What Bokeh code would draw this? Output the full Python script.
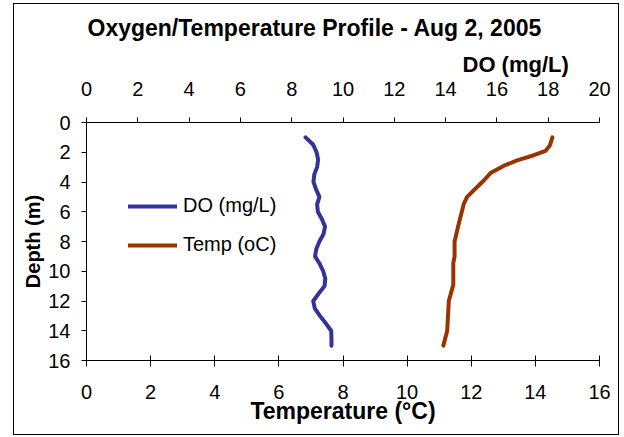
from bokeh.plotting import figure
from bokeh.models import Range1d, LinearAxis, Legend, LegendItem, Title, FixedTicker
from bokeh.embed import file_html
from bokeh.resources import INLINE

title_text = "Oxygen/Temperature Profile - Aug 2, 2005"
do_label = "DO (mg/L)"
temp_label = "Temp (oC)"

depth_do = [1.0, 1.5, 2.0, 2.5, 3.0, 3.5, 4.0, 4.5, 5.0, 5.5, 6.0, 6.5, 7.0, 7.5,
            8.0, 8.5, 9.0, 9.5, 10.0, 10.5, 11.0, 11.5, 12.0, 12.5, 13.0, 13.5,
            14.0, 14.5, 15.0]
do_mgl = [8.54, 8.84, 8.97, 9.03, 8.99, 8.88, 8.85, 8.95, 9.08, 8.99, 9.02, 9.18,
          9.30, 9.24, 9.08, 8.96, 8.91, 9.09, 9.23, 9.31, 9.28, 9.05, 8.84, 8.90,
          9.10, 9.33, 9.54, 9.55, 9.55]

depth_temp = [1.0, 1.55, 1.9, 2.2, 2.55, 2.9, 3.4, 3.9, 5.0, 5.45, 6.8, 8.0, 9.0,
              9.45, 10.9, 12.0, 12.8, 14.0, 15.0]
temp_c = [14.53, 14.45, 14.32, 13.95, 13.43, 13.02, 12.60, 12.39, 11.87, 11.77,
          11.61, 11.48, 11.48, 11.44, 11.44, 11.30, 11.28, 11.25, 11.13]

temp_ticks = [0, 2, 4, 6, 8, 10, 12, 14, 16]
do_ticks = [0, 2, 4, 6, 8, 10, 12, 14, 16, 18, 20]
depth_ticks = [0, 2, 4, 6, 8, 10, 12, 14, 16]

FONT = "Liberation Sans"
DO_COLOR = "#333399"
TEMP_COLOR = "#993300"

p = figure(width=604, height=430, x_range=Range1d(0, 16), y_range=Range1d(16, 0),
           output_backend="svg", toolbar_location=None,
           min_border_left=72, min_border_right=19, min_border_top=117,
           min_border_bottom=74)
p.margin = (4, 0, 0, 14)
p.extra_x_ranges = {"do": Range1d(0, 20)}
p.styles = {"outline": "1px solid #000"}
p.xgrid.visible = False
p.ygrid.visible = False
p.outline_line_color = None
p.background_fill_color = "white"


def style_axis(ax, ticks):
    ax.ticker = FixedTicker(ticks=ticks)
    ax.axis_line_color = "black"
    ax.major_tick_line_color = "black"
    ax.minor_tick_line_color = None
    ax.major_label_text_font = FONT
    ax.major_label_text_font_size = "20px"
    ax.major_label_text_color = "black"
    ax.axis_label_text_font = FONT
    ax.axis_label_text_font_style = "bold"
    ax.axis_label_text_color = "black"


xb = p.xaxis[0]
style_axis(xb, temp_ticks)
xb.major_tick_in = 5
xb.major_tick_out = 6
xb.major_label_standoff = 18
xb.axis_label = "Temperature (°C)"
xb.axis_label_text_font_size = "23px"
xb.axis_label_standoff = -4

yl = p.yaxis[0]
style_axis(yl, depth_ticks)
yl.major_tick_in = 0
yl.major_tick_out = 5
yl.major_label_standoff = 11
yl.axis_label = "Depth (m)"
yl.axis_label_text_font_size = "20px"
yl.axis_label_standoff = 1

xt = LinearAxis(x_range_name="do")
style_axis(xt, do_ticks)
xt.major_tick_in = 0
xt.major_tick_out = 5
xt.major_label_standoff = 22
p.add_layout(xt, "above")

do_title = Title(text=do_label, align="left", offset=376, standoff=3,
                 text_font=FONT, text_font_size="22px", text_font_style="bold",
                 text_color="black")
p.add_layout(do_title, "above")

p.title.text = title_text
p.title.text_font = FONT
p.title.text_font_size = "23px"
p.title.text_font_style = "bold"
p.title.text_color = "black"
p.title.align = "left"
p.title.offset = 1
p.title.standoff = 16

r_do = p.line(do_mgl, depth_do, x_range_name="do", line_color=DO_COLOR, line_width=4,
              line_join="round", line_cap="round")
r_t = p.line(temp_c, depth_temp, line_color=TEMP_COLOR, line_width=4,
             line_join="round", line_cap="round")

legend = Legend(items=[LegendItem(label=do_label, renderers=[r_do]),
                       LegendItem(label=temp_label, renderers=[r_t])],
                location=(42, 104), border_line_color=None, background_fill_alpha=0,
                padding=0, margin=0, spacing=16, glyph_width=49, glyph_height=20,
                label_height=20, label_standoff=6, label_text_font=FONT,
                label_text_font_size="20px", label_text_color="black")
p.add_layout(legend, "center")

open("out.html", "w").write(file_html(p, INLINE))
